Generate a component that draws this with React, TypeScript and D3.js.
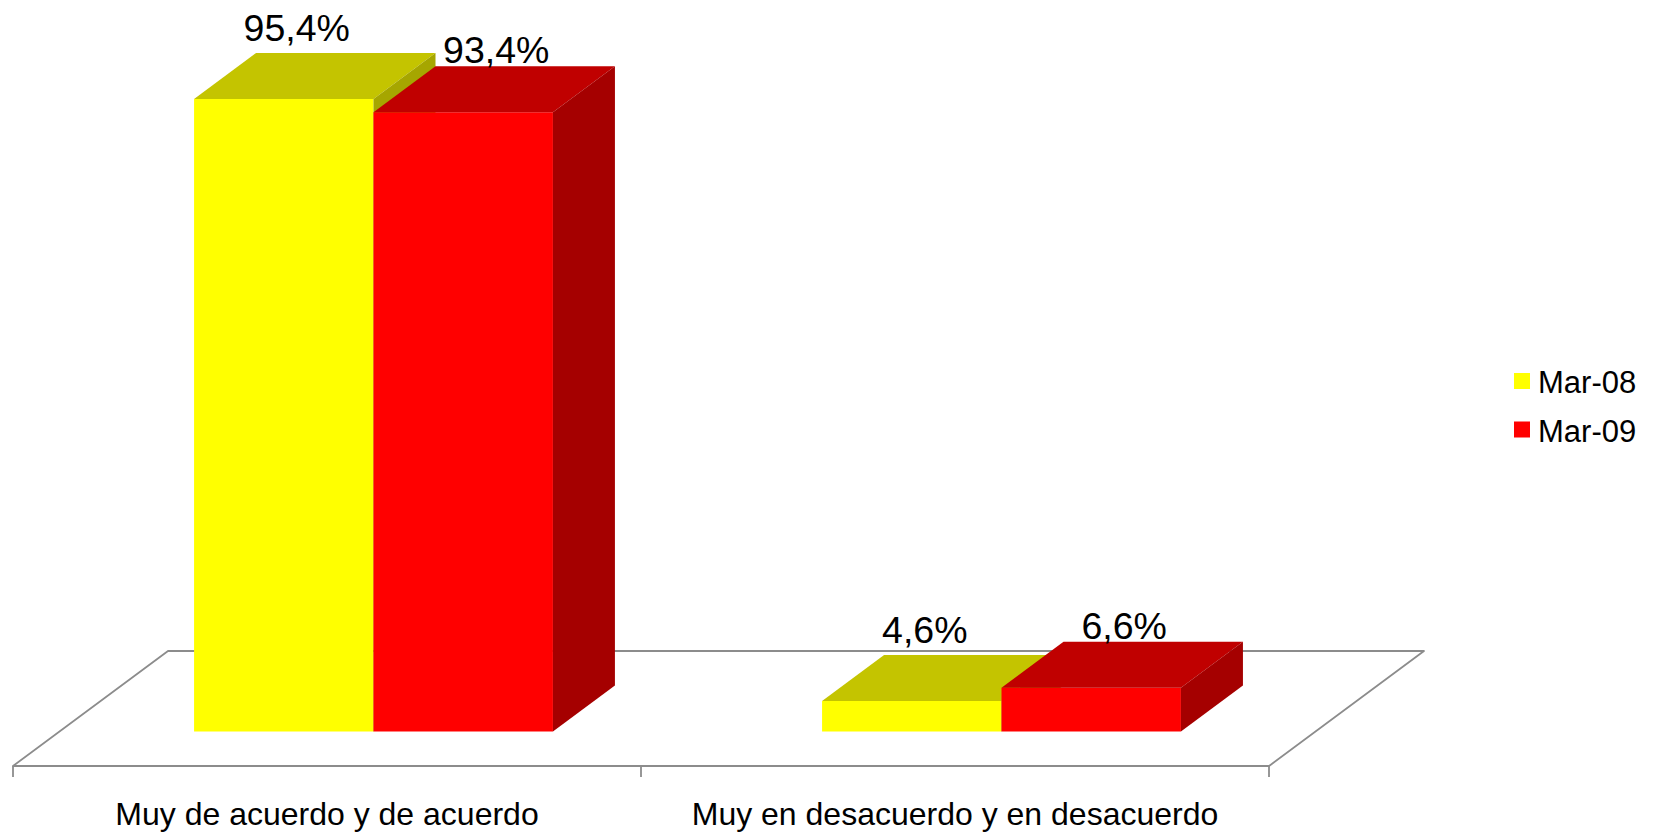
import React, { useEffect, useRef } from "react";
import * as d3 from "d3";

const categories = ["Muy de acuerdo y de acuerdo", "Muy en desacuerdo y en desacuerdo"];
const seriesNames = ["Mar-08", "Mar-09"];
const mar08Values = [95.4, 4.6];
const mar09Values = [93.4, 6.6];

const seriesValues = [mar08Values, mar09Values];

const App: React.FC = () => {
	const svgRef = useRef<SVGSVGElement>(null);

	useEffect(() => {
		if (!svgRef.current) return;
		const svg = d3.select(svgRef.current);
		svg.selectAll("*").remove();

		const font = "'Liberation Sans', Arial, sans-serif";

		// floor on the front plane, depth vector goes up-right
		const floorLeft = 13;
		const floorRight = 1269;
		const floorFrontY = 766;
		const depth = { x: 155, y: -115 };
		const barDepth = 0.4; // share of floor depth taken by bars
		const barStart = (1 - barDepth) / 2;

		const colors = [
			{ front: "#ffff00", top: "#c4c400", side: "#a6a600" },
			{ front: "#ff0000", top: "#c00000", side: "#a50000" },
		];
		const labelOffset = [
			{ dx: 13, dy: -12 },
			{ dx: 33, dy: -3 },
		];

		const x0 = d3.scaleBand().domain(categories).range([floorLeft, floorRight]);
		const bw = x0.bandwidth();
		const gap = 1.5;
		const barW = bw / (seriesNames.length + gap);
		const x1 = d3
			.scaleBand()
			.domain(seriesNames)
			.range([(barW * gap) / 2, bw - (barW * gap) / 2]);

		const shiftX = depth.x * barStart;
		const baseY = floorFrontY + depth.y * barStart;
		const y = d3.scaleLinear().domain([0, 100]).range([baseY, baseY - 663]);
		const bdx = depth.x * barDepth;
		const bdy = depth.y * barDepth;

		const g = svg.append("g");
		const pts = (arr: number[][]) => arr.map((p) => p.join(",")).join(" ");

		// floor
		g.append("polygon")
			.attr(
				"points",
				pts([
					[floorLeft, floorFrontY],
					[floorRight, floorFrontY],
					[floorRight + depth.x, floorFrontY + depth.y],
					[floorLeft + depth.x, floorFrontY + depth.y],
				])
			)
			.attr("fill", "none")
			.attr("stroke", "#8c8c8c")
			.attr("stroke-width", 1.8)
			.attr("stroke-linejoin", "round");

		// ticks on the category axis
		const tickXs = categories.map((c) => x0(c) as number).concat([floorRight]);
		g.selectAll(".tick")
			.data(tickXs)
			.join("line")
			.attr("x1", (d) => d)
			.attr("x2", (d) => d)
			.attr("y1", floorFrontY)
			.attr("y2", floorFrontY + 11)
			.attr("stroke", "#8c8c8c")
			.attr("stroke-width", 1.8);

		// bars
		categories.forEach((cat, ci) => {
			seriesNames.forEach((s, si) => {
				const v = seriesValues[si][ci];
				const xl = (x0(cat) as number) + (x1(s) as number) + shiftX;
				const xr = xl + barW;
				const yt = y(v);
				const yb = y(0);
				const c = colors[si];

				g.append("rect")
					.attr("x", xl)
					.attr("y", yt)
					.attr("width", barW)
					.attr("height", yb - yt)
					.attr("fill", c.front);
				g.append("polygon")
					.attr(
						"points",
						pts([
							[xl, yt],
							[xr, yt],
							[xr + bdx, yt + bdy],
							[xl + bdx, yt + bdy],
						])
					)
					.attr("fill", c.top);
				g.append("polygon")
					.attr(
						"points",
						pts([
							[xr, yt],
							[xr + bdx, yt + bdy],
							[xr + bdx, yb + bdy],
							[xr, yb],
						])
					)
					.attr("fill", c.side);
			});
		});

		// data labels
		categories.forEach((cat, ci) => {
			seriesNames.forEach((s, si) => {
				const v = seriesValues[si][ci];
				const xl = (x0(cat) as number) + (x1(s) as number) + shiftX;
				g.append("text")
					.attr("x", xl + barW / 2 + labelOffset[si].dx)
					.attr("y", y(v) + bdy + labelOffset[si].dy)
					.attr("text-anchor", "middle")
					.attr("font-family", font)
					.attr("font-size", 37.5)
					.attr("fill", "#000")
					.text(d3.format(".1f")(v).replace(".", ",") + "%");
			});
		});

		// category labels
		g.selectAll(".cat")
			.data(categories)
			.join("text")
			.attr("x", (d) => (x0(d) as number) + bw / 2)
			.attr("y", 825)
			.attr("text-anchor", "middle")
			.attr("font-family", font)
			.attr("font-size", 32)
			.attr("fill", "#000")
			.text((d) => d);

		// legend
		const legend = g
			.append("g")
			.selectAll("g")
			.data(seriesNames)
			.join("g")
			.attr("transform", (d, i) => `translate(1514,${393 + i * 48.5})`);
		legend
			.append("rect")
			.attr("x", 0)
			.attr("y", -20)
			.attr("width", 16)
			.attr("height", 16)
			.attr("fill", (d, i) => colors[i].front);
		legend
			.append("text")
			.attr("x", 24)
			.attr("y", 0)
			.attr("font-family", font)
			.attr("font-size", 31)
			.attr("fill", "#000")
			.text((d) => d);
	}, []);

	return (
		<svg
			ref={svgRef}
			width={1658}
			height={834}
			style={{ position: "absolute", left: 0, top: 0, background: "#fff" }}
		/>
	);
};

export default App;
